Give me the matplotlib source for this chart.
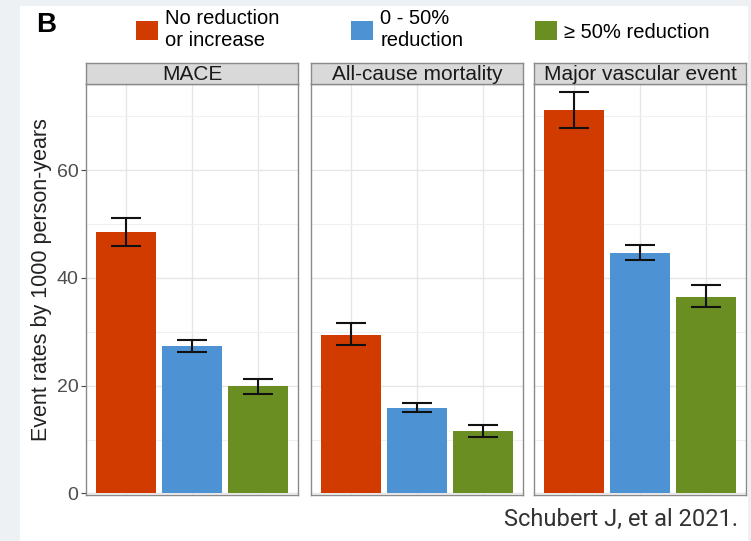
import matplotlib.pyplot as plt
from matplotlib.patches import Rectangle, Patch

plt.rcParams["font.family"] = ["Liberation Sans", "DejaVu Sans"]

# data
panels = ["MACE", "All-cause mortality", "Major vascular event"]
groups = ["No reduction\nor increase", "0 - 50%\nreduction", "\u2265 50% reduction"]
colors = ["#D13B00", "#4D93D3", "#6B8E23"]

rate = [
    [48.5, 27.3, 19.9],
    [29.4, 15.9, 11.5],
    [71.2, 44.7, 36.5],
]
ci_low = [
    [46.0, 26.3, 18.4],
    [27.5, 15.2, 10.4],
    [67.8, 43.4, 34.6],
]
ci_high = [
    [51.2, 28.5, 21.3],
    [31.6, 16.8, 12.7],
    [74.6, 46.2, 38.6],
]
y_ticks = [0, 20, 40, 60]
minor_ticks = [10, 30, 50, 70]

W, H = 751, 541
fig = plt.figure(figsize=(W / 100, H / 100), dpi=100)
fig.patch.set_facecolor("#EDF1F3")
fig.add_artist(Rectangle((20 / W, 0), 728 / W, 1 - 6 / H,
                         transform=fig.transFigure, facecolor="white",
                         edgecolor="none", zorder=-10))

panel_left = [86, 311, 534]
panel_w = 212
top, bottom = 84, 495
strip_h = 21
border = "#8A8A8A"

for i, name in enumerate(panels):
    ax = fig.add_axes([panel_left[i] / W, 1 - bottom / H,
                       panel_w / W, (bottom - top) / H])
    x = [1, 2, 3]
    lo = [rate[i][k] - ci_low[i][k] for k in range(3)]
    hi = [ci_high[i][k] - rate[i][k] for k in range(3)]
    ax.bar(x, rate[i], width=0.9, color=colors, zorder=2)
    ax.errorbar(x, rate[i], yerr=[lo, hi], fmt="none", ecolor="#111111",
                elinewidth=1.5, capsize=11, capthick=1.5, zorder=3)
    ax.set_xlim(0.4, 3.6)
    ax.set_ylim(-0.3, 76)
    ax.set_xticks(x)
    ax.set_yticks(y_ticks)
    ax.set_yticks(minor_ticks, minor=True)
    ax.grid(True, which="major", color="#E6E6E6", linewidth=1.0, zorder=0)
    ax.grid(True, which="minor", axis="y", color="#F0F0F0", linewidth=0.8, zorder=0)
    ax.tick_params(axis="x", length=0, labelbottom=False)
    ax.tick_params(axis="y", which="minor", length=0)
    if i == 0:
        ax.tick_params(axis="y", which="major", length=3.5, color="#444444",
                       labelsize=14, labelcolor="#4D4D4D", pad=2)
    else:
        ax.tick_params(axis="y", which="major", length=0, labelleft=False)
    for s in ax.spines.values():
        s.set_color(border)
        s.set_linewidth(1.0)

    # facet strip
    sax = fig.add_axes([panel_left[i] / W, 1 - top / H,
                        panel_w / W, strip_h / H])
    sax.set_facecolor("#D9D9D9")
    sax.set_xticks([])
    sax.set_yticks([])
    for s in sax.spines.values():
        s.set_color(border)
        s.set_linewidth(1.0)
    sax.text(0.5, 0.45, name, ha="center", va="center", fontsize=15,
             color="#1A1A1A", transform=sax.transAxes)

fig.text(42 / W, 1 - 280 / H, "Event rates by 1000 person-years",
         rotation=90, ha="center", va="center", fontsize=15.5, color="#222222")

fig.text(36 / W, 1 - 25 / H, "B", fontsize=20, fontweight="bold",
         ha="left", va="center")

handles = [Patch(facecolor=c, edgecolor="none") for c in colors]
fig.legend(handles, groups, ncol=3, loc="center left",
           bbox_to_anchor=(136 / W, 1 - 30 / H), frameon=False,
           fontsize=14.5, handlelength=1.1, handleheight=1.1,
           handletextpad=0.35, columnspacing=3.55, borderpad=0,
           borderaxespad=0, labelspacing=0.2)

fig.text(738 / W, 1 - 519 / H, "Schubert J, et al 2021.", ha="right",
         va="center", fontsize=17, color="#333333", family="Roboto")

fig.savefig("out.png", dpi=100, facecolor=fig.get_facecolor())
